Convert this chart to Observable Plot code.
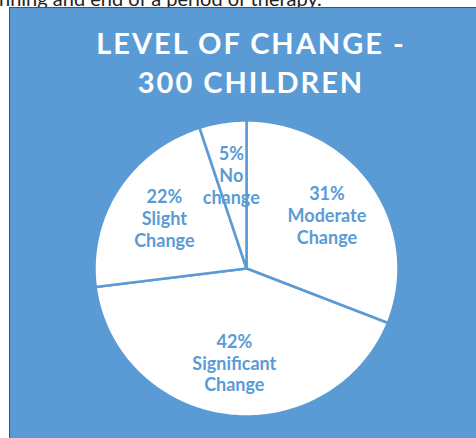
<!DOCTYPE html>
<html>
<head>
<meta charset="utf-8">
<script src="https://cdn.jsdelivr.net/npm/d3@7"></script>
<script src="https://cdn.jsdelivr.net/npm/@observablehq/plot@0.6"></script>
<style>
  html, body { margin: 0; padding: 0; background: #ffffff; width: 476px; height: 438px; overflow: hidden; position: relative; }
  #doctext { position: absolute; left: -1px; top: -12px; font-family: Lato, "Open Sans", sans-serif; font-size: 20px; line-height: 20px; color: #222; white-space: nowrap; }
  #box { position: absolute; left: 9px; top: 7px; width: 467px; height: 431px; background: #5B9BD5; border-left: 1px solid #7030A0; border-top: 1px solid #7030A0; box-sizing: border-box; overflow: hidden; }
  #title { position: absolute; left: 0; top: 15px; width: 482px; text-align: center; font-family: Lato, "Open Sans", sans-serif; font-weight: bold; font-size: 29px; line-height: 39px; letter-spacing: 2px; color: #ffffff; }
  #chart { position: absolute; left: 0; top: 0; }
</style>
</head>
<body>
<div id="doctext">nning and end of a period of therapy.</div>
<div id="box">
  <div id="chart"></div>
  <div id="title">LEVEL OF CHANGE -<br>300 CHILDREN</div>
</div>
<script>
const categories = ["Moderate Change", "Significant Change", "Slight Change", "No change"];
const values = [31, 42, 22, 5];
const percentLabels = ["31%", "42%", "22%", "5%"];
const nameLabels = ["Moderate\nChange", "Significant\nChange", "Slight\nChange", "No\nchange"];

const blue = "#5B9BD5";
const arcs = d3.pie().sort(null).value(d => d)(values);

// outline points of each slice, derived from the pie angles
const slicePts = [];
arcs.forEach((a, i) => {
  slicePts.push({key: categories[i], x: 0, y: 0});
  const n = Math.max(4, Math.ceil((a.endAngle - a.startAngle) / (Math.PI / 180)));
  for (let k = 0; k <= n; k++) {
    const t = a.startAngle + (a.endAngle - a.startAngle) * k / n;
    slicePts.push({key: categories[i], x: Math.sin(t), y: Math.cos(t)});
  }
  slicePts.push({key: categories[i], x: 0, y: 0});
});

const labelR = 0.64;
const labels = arcs.map((a, i) => {
  const m = (a.startAngle + a.endAngle) / 2;
  return {x: labelR * Math.sin(m), y: labelR * Math.cos(m), text: percentLabels[i] + "\n" + nameLabels[i]};
});

// box inner origin is at page (10, 8)
const cx = 246 - 10, cy = 268 - 8, rx = 152, ry = 148;

const chart = Plot.plot({
  width: 466,
  height: 430,
  margin: 0,
  style: {background: "transparent", overflow: "visible"},
  x: {domain: [-1, 1], range: [cx - rx, cx + rx], axis: null},
  y: {domain: [-1, 1], range: [cy + ry, cy - ry], axis: null},
  marks: [
    Plot.line(slicePts, {x: "x", y: "y", z: "key", fill: "white", stroke: blue, strokeWidth: 2.5, strokeLinejoin: "round", curve: "linear"}),
    Plot.text(labels, {x: "x", y: "y", text: "text", fill: blue, fontSize: 18, fontWeight: "bold", fontFamily: "Lato, 'Open Sans', sans-serif", lineHeight: 1.22})
  ]
});
document.getElementById("chart").appendChild(chart);
</script>
</body>
</html>
